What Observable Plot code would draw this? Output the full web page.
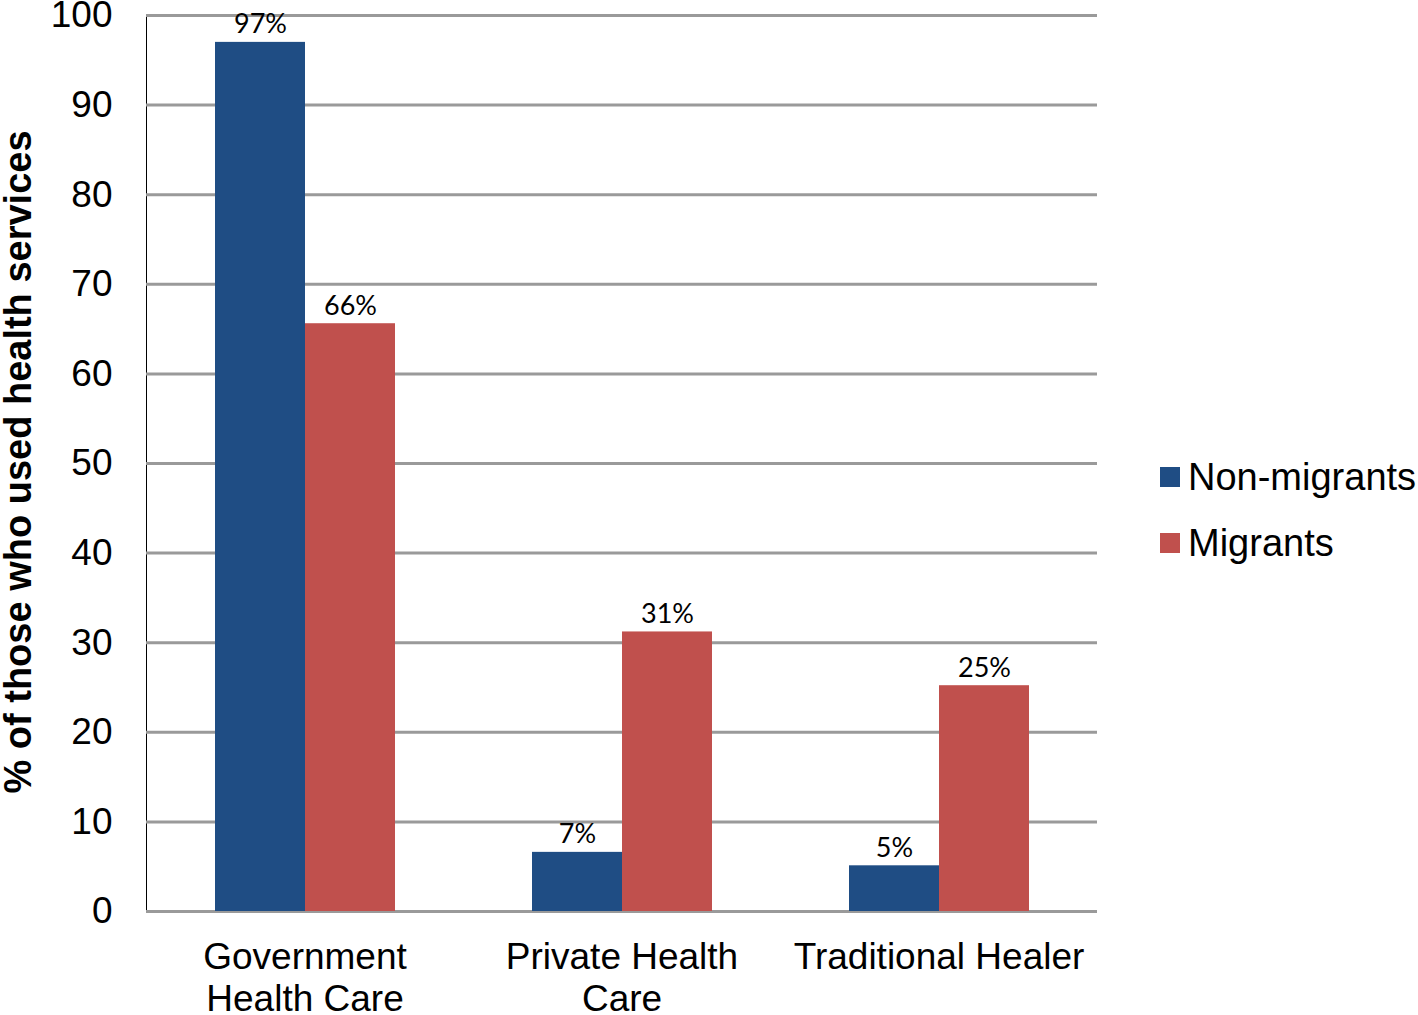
<!DOCTYPE html>
<html>
<head>
<meta charset="utf-8">
<script src="https://cdn.jsdelivr.net/npm/d3@7"></script>
<script src="https://cdn.jsdelivr.net/npm/@observablehq/plot@0.6"></script>
<style>
  html, body { margin: 0; padding: 0; background: #fff; }
  #wrap { position: relative; width: 1418px; height: 1015px; overflow: hidden; font-family: "Liberation Sans", Arial, sans-serif; }
  #ylabel { position: absolute; left: 18px; top: 462px; transform: translate(-50%, -50%) rotate(-90deg);
            white-space: nowrap; font-weight: bold; font-size: 38px; color: #000; }
  #legend { position: absolute; left: 1160px; top: 444px; font-size: 38px; color: #000; }
  .item { display: flex; align-items: center; height: 66px; }
  .sw { width: 20px; height: 20px; margin-right: 8px; }
  svg [aria-label="y-axis"] .domain, svg [aria-label="y-axis line"] line { stroke: #9a9a9a; stroke-width: 3px; stroke-opacity: 1; }
</style>
</head>
<body>
<div id="wrap">
  <div id="chart"></div>
  <div id="ylabel"></div>
  <div id="legend"></div>
</div>
<script>
const categories = ["Government Health Care", "Private Health Care", "Traditional Healer"];
const categoryLabels = ["Government\nHealth Care", "Private Health\nCare", "Traditional Healer"];
const groups = ["Non-migrants", "Migrants"];
const nonMigrants = [97, 6.6, 5.1];
const migrants = [65.6, 31.2, 25.2];
const nonMigrantLabels = ["97%", "7%", "5%"];
const migrantLabels = ["66%", "31%", "25%"];
const yTicks = [0, 10, 20, 30, 40, 50, 60, 70, 80, 90, 100];
const colors = ["#1f4d84", "#c0504d"];
const yTitle = "% of those who used health services";

const rows = [];
categories.forEach((c, i) => {
  rows.push({category: c, group: groups[0], value: nonMigrants[i], label: nonMigrantLabels[i], catLabel: categoryLabels[i]});
  rows.push({category: c, group: groups[1], value: migrants[i], label: migrantLabels[i], catLabel: categoryLabels[i]});
});

const chart = Plot.plot({
  width: 1418,
  height: 1015,
  marginLeft: 145,
  marginRight: 320,
  marginTop: 15,
  marginBottom: 104,
  style: {fontFamily: "'Liberation Sans', Arial, sans-serif", fontSize: "37px", color: "#000", background: "#fff", overflow: "visible"},
  facet: {data: rows, x: "category"},
  fx: {domain: categories, padding: 0, axis: null, label: null},
  x: {domain: groups, paddingInner: 0, paddingOuter: 0.755, axis: null},
  y: {domain: [0, 100], ticks: yTicks, tickSize: 0, tickPadding: 34, label: null, line: true},
  color: {domain: groups, range: colors},
  marks: [
    Plot.ruleY(yTicks, {stroke: "#9a9a9a", strokeWidth: 3}),
    Plot.barY(rows, {x: "group", y: "value", fill: "group"}),
    Plot.text(rows, {x: "group", y: "value", text: "label", lineAnchor: "bottom", dy: -9,
      fontSize: 27, fontFamily: "Lato, 'Open Sans', sans-serif", fill: "#000"}),
    Plot.text(rows, {filter: d => d.group === groups[0], text: "catLabel", frameAnchor: "bottom",
      lineAnchor: "top", dy: 27, lineHeight: 1.15, fontSize: 37, fill: "#000"})
  ]
});
document.getElementById("chart").appendChild(chart);

document.getElementById("ylabel").textContent = yTitle;
const legend = document.getElementById("legend");
groups.forEach((g, i) => {
  const item = document.createElement("div");
  item.className = "item";
  const sw = document.createElement("div");
  sw.className = "sw";
  sw.style.background = colors[i];
  const t = document.createElement("span");
  t.textContent = g;
  item.appendChild(sw);
  item.appendChild(t);
  legend.appendChild(item);
});
</script>
</body>
</html>
